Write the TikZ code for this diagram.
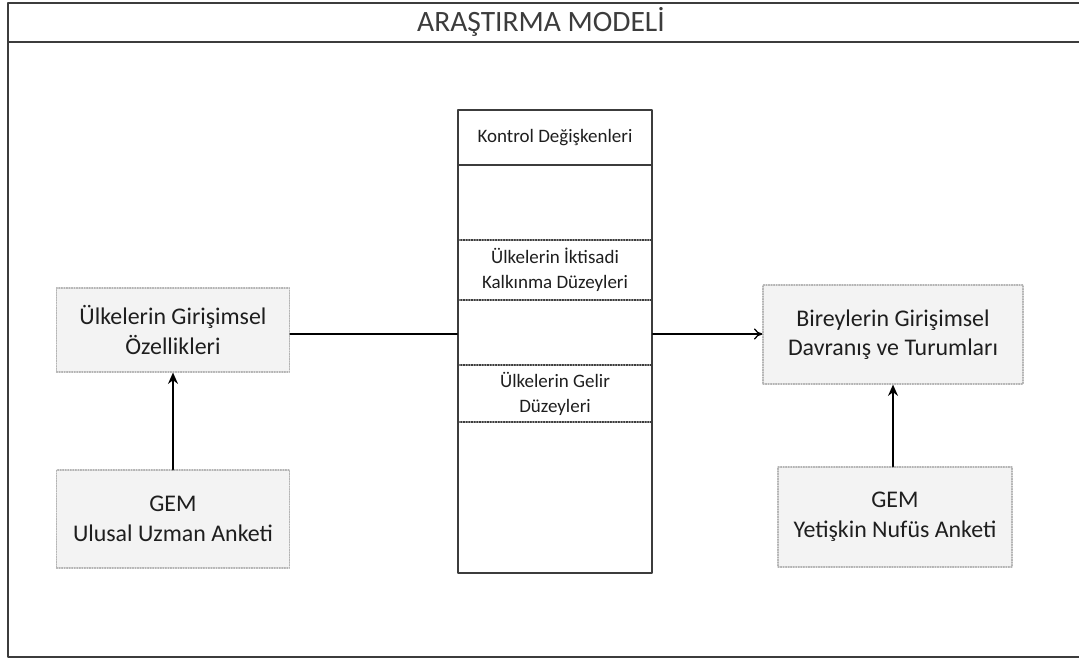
\documentclass[tikz,border=0pt]{standalone}
\usepackage{fontspec}
\setmainfont{Carlito}
\usetikzlibrary{arrows.meta}
\definecolor{framegray}{HTML}{3C3C3C}
\definecolor{boxfill}{HTML}{F3F3F3}
\definecolor{boxline}{HTML}{B4B4B4}
\definecolor{inkgray}{HTML}{1E1E1E}
\tikzset{
  srcbox/.style={fill=boxfill, draw=boxline, densely dotted, line width=0.8pt,
    align=center, text=inkgray, font=\fontsize{17}{21}\selectfont},
  varline/.style={densely dotted, line width=0.9pt, draw=framegray},
  vartext/.style={align=center, text=inkgray, font=\fontsize{13.5}{17.5}\selectfont}
}
\begin{document}
\begin{tikzpicture}[x=0.025cm,y=-0.025cm,line cap=round,line join=round]
        \useasboundingbox (0,0) rectangle (1079,668);
        % frame and title
        \draw[framegray,line width=1.1pt] (1085,3) -- (8,3) -- (8,657) -- (1085,657)
          (8,42) -- (1085,42);
        \node (title) at (541,22) [text=framegray,font=\fontsize{21}{25}\selectfont] {ARAŞTIRMA MODELİ};

        % control variables
        \node (ctrl) at (555,341.5) [draw=framegray,line width=1.1pt,minimum width=4.85cm,minimum height=11.575cm] {};
        \draw[framegray,line width=1pt] (458,165) -- (652,165);
        \draw[varline] (458,240) -- (652,240) (458,300) -- (652,300)
          (458,365) -- (652,365) (458,422) -- (652,422);
        \node (kontrol) at (555,138) [vartext] {Kontrol Değişkenleri};
        \node (iktisadi) at (555,270) [vartext] {Ülkelerin İktisadi\\Kalkınma Düzeyleri};
        \node (gelir) at (555,394) [vartext] {Ülkelerin Gelir\\Düzeyleri};

        % boxes
        \node (ulke) at (173,330) [srcbox,minimum width=5.825cm,minimum height=2.1cm] {Ülkelerin Girişimsel\\Özellikleri};
        \node (birey) at (893,334.5) [srcbox,minimum width=6.5cm,minimum height=2.475cm] {Bireylerin Girişimsel\\Davranış ve Turumları};
        \node (uzman) at (173,519) [srcbox,minimum width=5.825cm,minimum height=2.45cm] {GEM\\Ulusal Uzman Anketi};
        \node (nufus) at (895,517) [srcbox,minimum width=5.85cm,minimum height=2.5cm] {GEM\\Yetişkin Nufüs Anketi};

        % connectors
        \coordinate (link) at (0,334);
        \draw[black,line width=0.9pt] (ulke.east |- link) -- (ctrl.west |- link);
        \draw[black,line width=0.9pt,-{To[length=6pt,width=8pt]}] (ctrl.east |- link) -- (birey.west |- link);
        \draw[black,line width=1.6pt,-{Stealth[length=8pt,width=7pt]}] (uzman.north) -- (ulke.south);
        \draw[black,line width=1.6pt,-{Stealth[length=8pt,width=7pt]}] (nufus.north -| birey.south) -- (birey.south);
\end{tikzpicture}
\end{document}
